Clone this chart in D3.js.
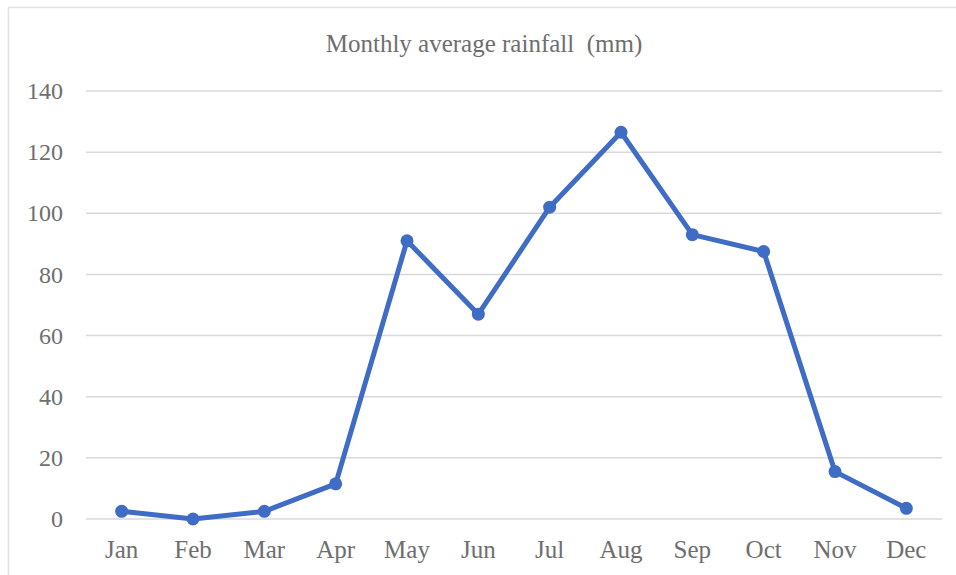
<!DOCTYPE html>
<html><head><meta charset="utf-8">
<script src="https://cdn.jsdelivr.net/npm/d3@7"></script>
<style>
html,body{margin:0;padding:0;background:#fff;}
svg{display:block;}
</style></head>
<body>
<script>
const months = ["Jan","Feb","Mar","Apr","May","Jun","Jul","Aug","Sep","Oct","Nov","Dec"];
const rainfall = [2.5, 0, 2.5, 11.5, 91, 67, 102, 126.5, 93, 87.5, 15.5, 3.5];
const yTicks = [0, 20, 40, 60, 80, 100, 120, 140];
const title = "Monthly average rainfall  (mm)";

(function () {
const W = 956, H = 575;
const svg = d3.select("body").append("svg").attr("width", W).attr("height", H);

// outer chart frame
svg.append("rect").attr("x", 8.5).attr("y", 7.5).attr("width", W + 10).attr("height", H + 10)
  .attr("fill", "#fff").attr("stroke", "#e3e3e3").attr("stroke-width", 1.5);

const mLeft = 86, mRight = 942, mTop = 91, mBottom = 519;
const x = d3.scaleBand().domain(months).range([mLeft, mRight]);
const y = d3.scaleLinear().domain([0, 140]).range([mBottom, mTop]);

const font = "'Liberation Serif', 'Times New Roman', serif";
const textColor = "#6e6e6e";

// gridlines
svg.append("g").selectAll("line").data(yTicks).join("line")
  .attr("x1", mLeft).attr("x2", mRight)
  .attr("y1", d => y(d)).attr("y2", d => y(d))
  .attr("stroke", "#d9d9d9").attr("stroke-width", 1.5);

// y axis labels
const yAxis = d3.axisLeft(y).tickValues(yTicks).tickSize(0).tickPadding(23);
const gy = svg.append("g").attr("transform", `translate(${mLeft},0)`).call(yAxis);
gy.select(".domain").remove();
gy.selectAll("text").attr("font-family", font).attr("font-size", 24).attr("fill", textColor);

// x axis labels
const xAxis = d3.axisBottom(x).tickSize(0).tickPadding(21);
const gx = svg.append("g").attr("transform", `translate(0,${mBottom})`).call(xAxis);
gx.select(".domain").remove();
gx.selectAll("text").attr("font-family", font).attr("font-size", 25).attr("fill", textColor);

// line
const cx = m => x(m) + x.bandwidth() / 2;
const line = d3.line().x((d, i) => cx(months[i])).y(d => y(d));
svg.append("path").datum(rainfall).attr("d", line)
  .attr("fill", "none").attr("stroke", "#3f6cc4").attr("stroke-width", 5)
  .attr("stroke-linejoin", "round");

svg.append("g").selectAll("circle").data(rainfall).join("circle")
  .attr("cx", (d, i) => cx(months[i])).attr("cy", d => y(d)).attr("r", 6.5)
  .attr("fill", "#3f6cc4");

// title
svg.append("text").attr("x", 484).attr("y", 52).attr("text-anchor", "middle")
  .attr("font-family", font).attr("font-size", 25).attr("fill", textColor)
  .style("white-space", "pre").text(title);
})();
</script>
</body></html>
